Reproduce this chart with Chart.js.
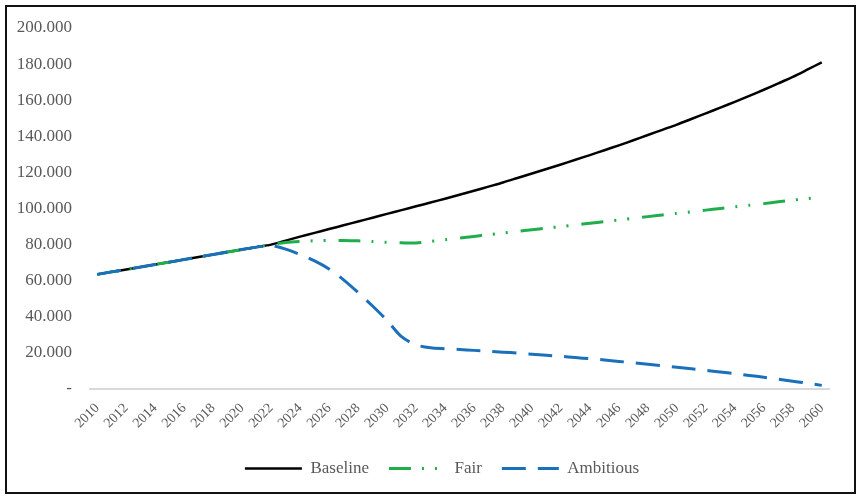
<!DOCTYPE html>
<html>
<head>
<meta charset="utf-8">
<script src="https://cdn.jsdelivr.net/npm/chart.js@4/dist/chart.umd.min.js"></script>
<style>
  html, body { margin: 0; padding: 0; background: #fff; }
  body { width: 860px; height: 497px; position: relative; overflow: hidden; }
  #frame {
    position: absolute; left: 5px; top: 5px; width: 851px; height: 489px;
    box-sizing: border-box; border: 2px solid #111; background: #fff;
  }
  #chart { display: block; }
</style>
</head>
<body>
<div id="frame"><canvas id="chart" width="847" height="485"></canvas></div>
<script>
// categories
var years = [
  '2010','2011','2012','2013','2014','2015','2016','2017','2018','2019',
  '2020','2021','2022','2023','2024','2025','2026','2027','2028','2029',
  '2030','2031','2032','2033','2034','2035','2036','2037','2038','2039',
  '2040','2041','2042','2043','2044','2045','2046','2047','2048','2049',
  '2050','2051','2052','2053','2054','2055','2056','2057','2058','2059',
  '2060'
];

// series
var baseline = [
  63500, 64900, 66200, 67600, 69000, 70300, 71700, 73100, 74500, 75900,
  77300, 78600, 80000, 82200, 84400, 86500, 88600, 90700, 92800, 94900,
  97000, 99100, 101200, 103300, 105400, 107600, 109800, 112100, 114400, 116900,
  119400, 121900, 124400, 127000, 129600, 132300, 135000, 137800, 140700, 143600,
  146500, 149600, 152700, 155900, 159100, 162400, 165800, 169300, 172900, 176900,
  181000
];
var fair = [
  63500, 64900, 66200, 67600, 69000, 70300, 71700, 73100, 74500, 75900,
  77300, 78600, 80000, 81200, 81800, 82100, 82300, 82300, 82100, 81700,
  81300, 81000, 80900, 81800, 82700, 83600, 84500, 85500, 86400, 87300,
  88200, 89100, 90000, 90900, 91800, 92700, 93600, 94600, 95500, 96400,
  97300, 98200, 99100, 100000, 100900, 101800, 102700, 103700, 104600, 105500,
  106400
];
var ambitious = [
  63500, 64900, 66200, 67600, 69000, 70300, 71700, 73100, 74500, 75900,
  77300, 78600, 79500, 77500, 74500, 71000, 66500, 60500, 53500, 46000,
  38000, 29000, 24500, 22800, 22300, 21900, 21400, 20900, 20400, 19900,
  19300, 18700, 18100, 17400, 16800, 16100, 15300, 14500, 13700, 12900,
  12100, 11200, 10300, 9400, 8500, 7500, 6500, 5400, 4300, 3200,
  2000
];

// y ticks
var yMin = 0, yMax = 200000, yStep = 20000;

var serif = "'Liberation Serif', 'Times New Roman', serif";
var grey = '#595959';

function dotted(v) {
  if (v === 0) return '-';
  return String(v).replace(/\B(?=(\d{3})+(?!\d))/g, '.');
}

// the legend in the original sits a little right of centre
var shiftLegend = {
  id: 'shiftLegend',
  afterLayout: function (chart) {
    if (!chart.legend) return;
    chart.legend.left += 24;
    chart.legend.right += 24;
  }
};

new Chart(document.getElementById('chart').getContext('2d'), {
  type: 'line',
  data: {
    labels: years,
    datasets: [
      { label: 'Baseline', data: baseline, borderColor: '#000000', backgroundColor: '#000000',
        borderWidth: 2.5, pointRadius: 0, tension: 0.3, order: 3 },
      { label: 'Fair', data: fair, borderColor: '#1fae4b', backgroundColor: '#1fae4b',
        borderWidth: 3, borderDash: [22, 11, 2, 11, 2, 13], pointRadius: 0, tension: 0.3, order: 2 },
      { label: 'Ambitious', data: ambitious, borderColor: '#1a70bb', backgroundColor: '#1a70bb',
        borderWidth: 3, borderDash: [24, 12], pointRadius: 0, tension: 0.3, order: 1 }
    ]
  },
  plugins: [shiftLegend],
  options: {
    responsive: false,
    animation: false,
    layout: { padding: { left: 0, right: 25, top: 21, bottom: 5 } },
    plugins: {
      tooltip: { enabled: false },
      legend: {
        position: 'bottom',
        labels: {
          usePointStyle: true,
          pointStyle: 'line',
          pointStyleWidth: 57,
          boxHeight: 17,
          padding: 20,
          color: grey,
          font: { family: serif, size: 17 },
          sort: function (a, b) { return a.datasetIndex - b.datasetIndex; },
          generateLabels: function (chart) {
            var items = Chart.defaults.plugins.legend.labels.generateLabels(chart);
            items.forEach(function (it) {
              var ds = chart.data.datasets[it.datasetIndex];
              it.lineDash = ds.borderDash || [];
              it.lineWidth = ds.borderWidth;
              it.strokeStyle = ds.borderColor;
              it.pointStyle = 'line';
            });
            return items;
          }
        }
      }
    },
    scales: {
      x: {
        offset: true,
        grid: { display: false, drawTicks: false },
        border: { display: true, color: '#d9d9d9', width: 2 },
        ticks: {
          autoSkip: false, minRotation: 45, maxRotation: 45, padding: 11,
          color: grey, font: { family: serif, size: 14 },
          callback: function (v, i) { return i % 2 === 0 ? years[i] : ''; }
        },
        afterFit: function (s) { s.height = 51; }
      },
      y: {
        min: yMin, max: yMax,
        grid: { display: false, drawTicks: false },
        border: { display: false },
        ticks: {
          stepSize: yStep, padding: 18,
          color: grey, font: { family: serif, size: 17 },
          callback: function (v) { return dotted(v); }
        },
        afterFit: function (s) { s.width = 83; s.paddingTop = 0; s.paddingBottom = 0; }
      }
    }
  }
});
</script>
</body>
</html>
